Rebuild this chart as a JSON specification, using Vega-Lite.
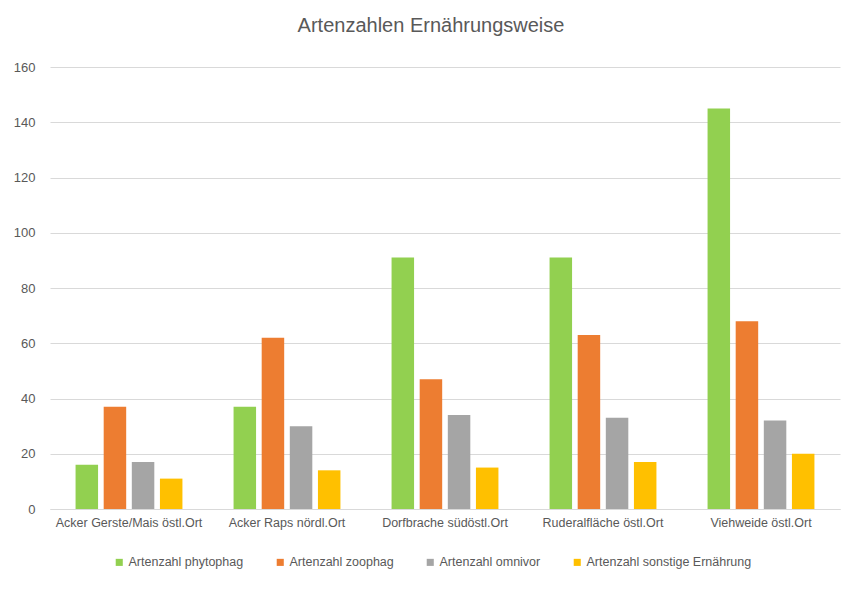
{
  "$schema": "https://vega.github.io/schema/vega-lite/v6.json",
  "width": 790,
  "height": 442,
  "autosize": "none",
  "padding": {"left": 50, "top": 67, "right": 20, "bottom": 81},
  "background": "white",
  "title": {"text": "Artenzahlen Ernährungsweise", "fontSize": 20, "font": "Liberation Sans", "fontWeight": "normal", "color": "#595959", "dx": -14, "offset": 25},
  "data": {"values": [
    {"ort": "Acker Gerste/Mais östl.Ort", "serie": "Artenzahl phytophag", "wert": 16},
    {"ort": "Acker Gerste/Mais östl.Ort", "serie": "Artenzahl zoophag", "wert": 37},
    {"ort": "Acker Gerste/Mais östl.Ort", "serie": "Artenzahl omnivor", "wert": 17},
    {"ort": "Acker Gerste/Mais östl.Ort", "serie": "Artenzahl sonstige Ernährung", "wert": 11},
    {"ort": "Acker Raps nördl.Ort", "serie": "Artenzahl phytophag", "wert": 37},
    {"ort": "Acker Raps nördl.Ort", "serie": "Artenzahl zoophag", "wert": 62},
    {"ort": "Acker Raps nördl.Ort", "serie": "Artenzahl omnivor", "wert": 30},
    {"ort": "Acker Raps nördl.Ort", "serie": "Artenzahl sonstige Ernährung", "wert": 14},
    {"ort": "Dorfbrache südöstl.Ort", "serie": "Artenzahl phytophag", "wert": 91},
    {"ort": "Dorfbrache südöstl.Ort", "serie": "Artenzahl zoophag", "wert": 47},
    {"ort": "Dorfbrache südöstl.Ort", "serie": "Artenzahl omnivor", "wert": 34},
    {"ort": "Dorfbrache südöstl.Ort", "serie": "Artenzahl sonstige Ernährung", "wert": 15},
    {"ort": "Ruderalfläche östl.Ort", "serie": "Artenzahl phytophag", "wert": 91},
    {"ort": "Ruderalfläche östl.Ort", "serie": "Artenzahl zoophag", "wert": 63},
    {"ort": "Ruderalfläche östl.Ort", "serie": "Artenzahl omnivor", "wert": 33},
    {"ort": "Ruderalfläche östl.Ort", "serie": "Artenzahl sonstige Ernährung", "wert": 17},
    {"ort": "Viehweide östl.Ort", "serie": "Artenzahl phytophag", "wert": 145},
    {"ort": "Viehweide östl.Ort", "serie": "Artenzahl zoophag", "wert": 68},
    {"ort": "Viehweide östl.Ort", "serie": "Artenzahl omnivor", "wert": 32},
    {"ort": "Viehweide östl.Ort", "serie": "Artenzahl sonstige Ernährung", "wert": 20}
  ]},
  "mark": {"type": "bar"},
  "encoding": {
    "x": {"field": "ort", "type": "nominal", "sort": null, "title": null,
      "scale": {"paddingInner": 0.288, "paddingOuter": 0.144},
      "axis": {"labelAngle": 0, "labelFont": "Liberation Sans", "labelFontSize": 12.5, "labelColor": "#595959", "domainColor": "#D9D9D9", "ticks": false, "labelPadding": 7, "labelLimit": 200}},
    "xOffset": {"field": "serie", "type": "nominal", "sort": ["Artenzahl phytophag", "Artenzahl zoophag", "Artenzahl omnivor", "Artenzahl sonstige Ernährung"],
      "scale": {"paddingInner": 0.2, "paddingOuter": 0.1}},
    "y": {"field": "wert", "type": "quantitative", "title": null,
      "scale": {"domain": [0, 160]},
      "axis": {"values": [0, 20, 40, 60, 80, 100, 120, 140, 160], "labelFont": "Liberation Sans", "labelFontSize": 13, "labelColor": "#595959", "domain": false, "ticks": false, "gridColor": "#D9D9D9", "labelPadding": 15}},
    "color": {"field": "serie", "type": "nominal", "title": null,
      "sort": ["Artenzahl phytophag", "Artenzahl zoophag", "Artenzahl omnivor", "Artenzahl sonstige Ernährung"],
      "scale": {"domain": ["Artenzahl phytophag", "Artenzahl zoophag", "Artenzahl omnivor", "Artenzahl sonstige Ernährung"], "range": ["#92D050", "#ED7D31", "#A5A5A5", "#FFC000"]},
      "legend": {"orient": "none", "legendX": 63, "legendY": 489, "direction": "horizontal", "columns": 4, "columnPadding": 30, "symbolType": "square", "symbolSize": 50, "symbolStrokeWidth": 0, "labelFont": "Liberation Sans", "labelFontSize": 12.5, "labelColor": "#595959", "labelOffset": 3, "labelLimit": 300}}
  },
  "config": {"view": {"stroke": null}}
}
